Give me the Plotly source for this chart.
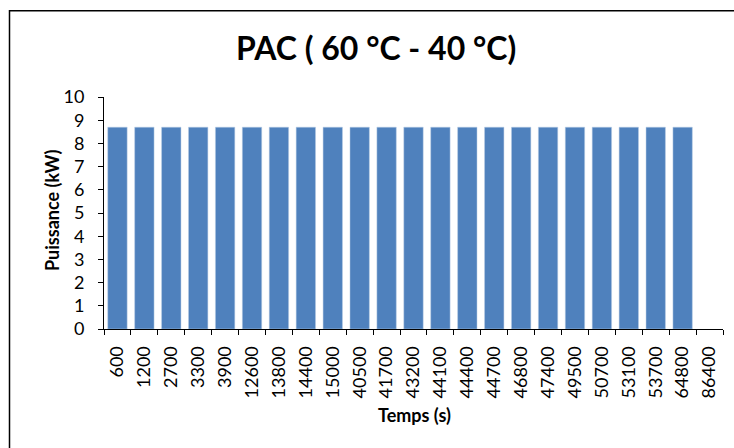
import plotly.graph_objects as go

temps = ["600", "1200", "2700", "3300", "3900", "12600", "13800", "14400", "15000",
         "40500", "41700", "43200", "44100", "44400", "44700", "46800", "47400",
         "49500", "50700", "53100", "53700", "64800", "86400"]
puissance = [8.7, 8.7, 8.7, 8.7, 8.7, 8.7, 8.7, 8.7, 8.7, 8.7, 8.7, 8.7, 8.7,
             8.7, 8.7, 8.7, 8.7, 8.7, 8.7, 8.7, 8.7, 8.7, None]
y_ticks = list(range(0, 11))

FONT = "Lato, Calibri, Carlito, sans-serif"
W, H = 734, 448
L, R, T, B = 104, 723, 97, 329  # plot area in pixels
PW, PH = R - L, B - T


def px(x):
    return (x - L) / PW


def py(y):
    return (B - y) / PH


fig = go.Figure()
fig.add_trace(go.Bar(x=temps, y=puissance, marker=dict(color="#4F81BD",
                     line=dict(color="#B9CDE5", width=0.5))))

fig.update_layout(
    width=W, height=H,
    margin=dict(l=L, r=W - R, t=T, b=H - B, autoexpand=False),
    paper_bgcolor="white", plot_bgcolor="white",
    bargap=0.28,
    showlegend=False,
    font=dict(family=FONT, color="black", size=16),
)
fig.update_xaxes(
    type="category", tickson="boundaries", ticks="outside", ticklen=5,
    tickcolor="black", tickwidth=1, showline=True, linecolor="black", linewidth=1,
    tickangle=-90, tickfont=dict(size=18, family=FONT), showgrid=False,
    automargin=False, ticklabelstandoff=9,
)
fig.update_yaxes(
    range=[0, 10], tickvals=y_ticks, ticks="outside", ticklen=5,
    tickcolor="black", tickwidth=1, showline=True, linecolor="black", linewidth=1,
    showgrid=False, zeroline=False, tickfont=dict(size=18, family=FONT),
    automargin=False, ticklabelstandoff=10,
)
fig.add_annotation(text="<b>PAC ( 60 °C - 40 °C)</b>", xref="paper", yref="paper",
                   x=px(376), y=py(48),
                   xanchor="center", yanchor="middle", showarrow=False,
                   font=dict(size=32, family=FONT, color="black"))
fig.add_annotation(text="<b>Temps (s)</b>", xref="paper", yref="paper",
                   x=px(414), y=py(415),
                   xanchor="center", yanchor="middle", showarrow=False,
                   font=dict(size=18, family=FONT, color="black"))
fig.add_annotation(text="<b>Puissance (kW)</b>", xref="paper", yref="paper",
                   x=px(52), y=py(211), textangle=-90,
                   xanchor="center", yanchor="middle", showarrow=False,
                   font=dict(size=18, family=FONT, color="black"))
# outer chart border
fig.add_shape(type="rect", xref="paper", yref="paper",
              x0=px(9.5), x1=px(760), y0=py(470), y1=py(10.7),
              line=dict(color="black", width=1.5), layer="below")

fig.write_html("out.html", config={"displayModeBar": False},
               post_script="document.body.style.margin='0';document.body.style.overflow='hidden';")
